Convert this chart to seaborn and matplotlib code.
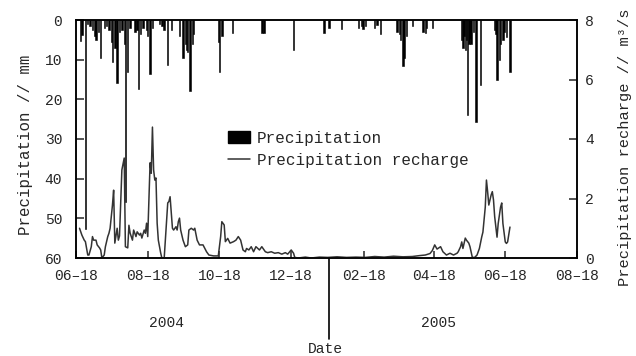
import pandas as pd
import matplotlib
matplotlib.use("Agg")
import matplotlib.pyplot as plt
import matplotlib.dates as mdates
from matplotlib.patches import Patch
from matplotlib.lines import Line2D
import seaborn as sns

# ---------------- data ----------------
start_date = "2004-06-18"

# days since 2004-06-18 and daily precipitation (mm)
precip_day = [4, 5, 8, 10, 12, 14, 16, 17, 19, 21, 24, 26, 28, 30, 31, 33, 35, 37, 39, 41,
              42, 44, 46, 50, 52, 53, 55, 57, 60, 61, 63, 65, 71, 73, 75, 78, 81, 88, 91, 93,
              94, 95, 97, 99, 100, 121, 122, 124, 133, 158, 160, 185, 211, 215, 226, 240, 243,
              244, 246, 254, 256, 259, 273, 275, 276, 278, 279, 281, 286, 295, 297, 298, 303,
              328, 329, 330, 331, 332, 333, 334, 335, 336, 338, 340, 344, 356, 357, 358, 360,
              361, 363, 364, 366, 369]
precip_mm = [5.3, 3.8, 52.6, 1.0, 1.5, 2.5, 4.0, 5.0, 3.0, 9.6, 2.0, 1.5, 2.5, 5.5, 10.6, 7.0,
             15.9, 3.0, 2.5, 6.0, 45.8, 13.0, 2.0, 3.0, 2.5, 17.4, 3.5, 2.0, 2.5, 4.0, 13.6, 2.0,
             1.0, 1.5, 2.5, 11.3, 2.5, 4.0, 9.6, 6.0, 7.5, 8.0, 18.0, 6.0, 3.5, 5.5, 13.0, 4.0,
             3.3, 3.3, 3.3, 7.5, 3.3, 2.0, 2.3, 2.0, 1.5, 2.3, 1.5, 2.0, 1.2, 3.5, 3.0, 3.5, 5.0,
             11.6, 9.5, 4.0, 1.5, 3.0, 3.3, 2.0, 2.0, 5.0, 7.0, 4.0, 7.5, 5.0, 24.0, 6.0, 4.5,
             6.0, 3.0, 25.6, 16.4, 2.5, 3.5, 15.0, 10.0, 6.0, 5.0, 3.0, 4.2, 13.0]

# days since 2004-06-18 and precipitation recharge (m3/s)
recharge_day = [3, 5, 7, 8, 10, 11, 13, 14, 15, 17, 18, 20, 21, 22, 24, 25, 27, 28, 29, 31,
                32, 33, 35, 36, 37, 38, 39, 41, 42, 44, 45, 46, 48, 49, 51, 52, 54, 55, 56, 58,
                59, 60, 61, 63, 64, 65, 66, 67, 68, 69, 70, 72, 73, 75, 76, 78, 79, 80, 82, 83,
                85, 86, 87, 88, 89, 91, 93, 95, 96, 98, 100, 101, 103, 105, 108, 111, 113, 117,
                121, 123, 124, 126, 127, 129, 131, 134, 136, 138, 140, 142, 144, 145, 147, 149,
                151, 153, 156, 158, 161, 163, 166, 169, 172, 175, 178, 180, 183, 185, 186, 189,
                195, 200, 207, 214, 222, 230, 238, 246, 254, 262, 270, 278, 286, 292, 297, 301,
                303, 305, 307, 310, 312, 315, 318, 321, 324, 325, 327, 328, 329, 331, 332, 334,
                335, 337, 339, 341, 343, 345, 346, 348, 349, 350, 351, 353, 354, 355, 356, 358,
                359, 361, 362, 363, 365, 366, 367, 369]
recharge_m3s = [1.0, 0.77, 0.6, 0.55, 0.1, 0.1, 0.38, 0.72, 0.6, 0.6, 0.44, 0.34, 0.27, 0.0,
                0.1, 0.38, 0.72, 0.83, 1.0, 1.78, 2.28, 0.5, 1.0, 0.6, 0.74, 1.9, 2.96, 3.36,
                0.38, 0.34, 1.1, 0.84, 0.6, 0.94, 0.72, 0.88, 0.77, 0.83, 0.67, 0.94, 0.83, 1.17,
                0.72, 3.2, 2.85, 4.4, 2.96, 2.62, 2.69, 1.17, 0.6, 0.17, 0.0, 0.0, 0.6, 1.85,
                1.9, 2.06, 1.0, 0.94, 1.05, 0.94, 1.22, 1.34, 0.94, 0.6, 0.38, 0.44, 0.94, 1.0,
                0.94, 1.0, 0.6, 0.44, 0.44, 0.21, 0.1, 0.07, 0.07, 0.72, 1.22, 1.11, 0.55, 0.66,
                0.5, 0.55, 0.6, 0.72, 0.6, 0.27, 0.21, 0.32, 0.27, 0.38, 0.21, 0.38, 0.27, 0.38,
                0.21, 0.18, 0.21, 0.16, 0.18, 0.13, 0.18, 0.13, 0.27, 0.16, 0.02, 0.0, 0.03, 0.0,
                0.03, 0.02, 0.04, 0.02, 0.03, 0.02, 0.05, 0.03, 0.06, 0.04, 0.05, 0.08, 0.1,
                0.15, 0.25, 0.44, 0.3, 0.38, 0.21, 0.1, 0.16, 0.1, 0.16, 0.21, 0.38, 0.54, 0.32,
                0.67, 0.6, 0.5, 0.38, 0.02, 0.02, 0.1, 0.32, 0.71, 0.87, 1.71, 2.62, 2.23, 1.78,
                2.12, 2.23, 1.95, 1.39, 0.7, 1.16, 1.71, 1.85, 1.16, 0.54, 0.49, 0.54, 1.04]

xtick_dates = ["2004-06-18", "2004-08-18", "2004-10-18", "2004-12-18",
               "2005-02-18", "2005-04-18", "2005-06-18", "2005-08-18"]
year_labels = ["2004", "2005"]
precip_ticks = [0, 10, 20, 30, 40, 50, 60]
recharge_ticks = [0, 2, 4, 6, 8]

# ---------------- style ----------------
sns.set_style("ticks")
plt.rcParams["font.family"] = ["Liberation Mono", "DejaVu Sans"]
plt.rcParams["axes.linewidth"] = 1.1

t0 = pd.Timestamp(start_date)
precip_df = pd.DataFrame({"date": t0 + pd.to_timedelta(precip_day, unit="D"),
                          "precip": precip_mm})
recharge_df = pd.DataFrame({"date": t0 + pd.to_timedelta(recharge_day, unit="D"),
                            "recharge": recharge_m3s})

fig = plt.figure(figsize=(6.36, 3.56), dpi=100)
ax = fig.add_axes([76 / 636, 1 - 258 / 356, 501 / 636, 238 / 356])
ax2 = ax.twinx()

# precipitation bars hanging from the top
ax.bar(precip_df["date"], precip_df["precip"], width=1.2, color="black",
       edgecolor="black", linewidth=0.4, align="center")
ax.set_ylim(60, 0)
ax.set_yticks(precip_ticks)

# recharge line
sns.lineplot(data=recharge_df, x="date", y="recharge", ax=ax2,
             color="#333333", linewidth=1.1)
ax2.set_ylim(0, 8)
ax2.set_yticks(recharge_ticks)

xt = pd.to_datetime(xtick_dates)
ax.set_xlim(xt[0], xt[-1])
ax.set_xticks(xt)
ax.xaxis.set_major_formatter(mdates.DateFormatter("%m\u2013%d"))

for a in (ax, ax2):
    for s in a.spines.values():
        s.set_visible(True)
        s.set_linewidth(1.1)
        s.set_color("black")

ax.tick_params(axis="y", direction="in", length=6, width=1.1, pad=10, labelsize=10.5)
ax.tick_params(axis="x", direction="in", length=5, width=1.1, pad=8, labelsize=10.5)
ax2.tick_params(axis="y", direction="in", length=6, width=1.1, pad=6, labelsize=10.5)

ax.set_xlabel("")
ax2.set_xlabel("")
ax.set_ylabel("Precipitation // mm", fontsize=11.3)
ax.yaxis.set_label_coords(-0.086, 0.475)
ax2.set_ylabel("Precipitation recharge // m\u00b3/s", fontsize=11.1)
ax2.yaxis.set_label_coords(1.082, 0.466)

# year labels, divider and axis title below the date axis
ax.text(0.18, -0.273, year_labels[0], transform=ax.transAxes, ha="center", va="center",
        fontsize=10.5)
ax.text(0.7226, -0.273, year_labels[1], transform=ax.transAxes, ha="center", va="center",
        fontsize=10.5)
ax.plot([0.505, 0.505], [0, -0.34], transform=ax.transAxes, color="black",
        linewidth=1.2, clip_on=False)
ax.text(0.497, -0.382, "Date", transform=ax.transAxes, ha="center", va="center",
        fontsize=10.5)

handles = [Patch(facecolor="black", edgecolor="black"),
           Line2D([], [], color="#333333", linewidth=1.1)]
ax2.legend(handles, ["Precipitation", "Precipitation recharge"],
           loc="upper left", bbox_to_anchor=(0.303, 0.535), frameon=False,
           fontsize=11.5, handlelength=1.4, handleheight=0.8, handletextpad=0.4,
           labelspacing=0.45, borderaxespad=0, borderpad=0)

fig.savefig("out.png", dpi=100)
